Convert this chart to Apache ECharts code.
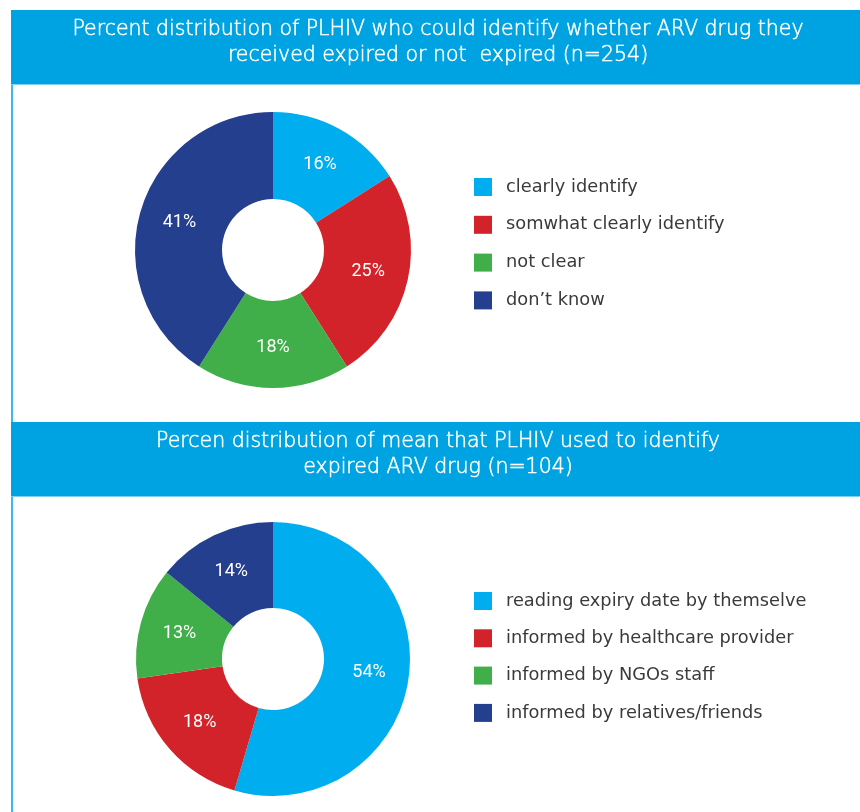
<!DOCTYPE html>
<html>
<head>
<meta charset="utf-8">
<script src="https://cdn.jsdelivr.net/npm/echarts@6/dist/echarts.min.js"></script>
<style>html,body{margin:0;padding:0;background:#fff;}#c{width:860px;height:812px;}</style>
</head>
<body>
<div id="c"></div>
<script>
const title1 = ['Percent distribution of PLHIV who could identify whether ARV drug they', 'received expired or not  expired (n=254)'];
const title2 = ['Percen distribution of mean that PLHIV used to identify', 'expired ARV drug (n=104)'];
const cats1 = ['clearly identify', 'somwhat clearly identify', 'not clear', 'don\u2019t know'];
const vals1 = [16, 25, 18, 41];
const cats2 = ['reading expiry date by themselve', 'informed by healthcare provider', 'informed by NGOs staff', 'informed by relatives/friends'];
const vals2 = [54, 18, 13, 14];
const colors = ['#00aeef', '#d2232a', '#40ae49', '#253f8f'];

const chart = echarts.init(document.getElementById('c'), null, {renderer: 'canvas'});
const hdr = '#00a3e2';
const titleFont = {fontFamily: 'DejaVu Sans', fontWeight: 300, fontSize: 20.5, fill: '#ffffff', stroke: '#ffffff', lineWidth: 0.5};
function titleTexts(lines, y0) {
  return lines.map((t, i) => ({
    type: 'text', x: 438, y: y0 + i * 26, z: 10,
    style: Object.assign({text: t, textAlign: 'center', textVerticalAlign: 'middle'}, titleFont)
  }));
}
const mk = (cats, vals) => cats.map((n, i) => ({name: n, value: vals[i], itemStyle: {color: colors[i]}}));
const label = {show: true, position: 'inside', formatter: '{c}%', color: '#fff', fontSize: 18, fontFamily: 'Roboto', fontWeight: 400};
const legText = {fontFamily: 'DejaVu Sans', fontSize: 17.8, color: '#3a3a3a', padding: [0, 0, 0, 9]};

chart.setOption({
  animation: false,
  backgroundColor: '#fff',
  graphic: [
    {type: 'rect', shape: {x: 11, y: 84, width: 2, height: 728}, style: {fill: '#3db7ec'}},
    {type: 'rect', shape: {x: 11, y: 10, width: 849, height: 74}, style: {fill: hdr}},
    {type: 'rect', shape: {x: 11, y: 84, width: 849, height: 1}, style: {fill: '#7fd0f3'}},
    {type: 'rect', shape: {x: 11, y: 422, width: 849, height: 74}, style: {fill: hdr}},
    {type: 'rect', shape: {x: 11, y: 496, width: 849, height: 1}, style: {fill: '#7fd0f3'}},
    ...titleTexts(title1, 30),
    ...titleTexts(title2, 442)
  ],
  legend: [
    {data: cats1, orient: 'vertical', left: 469, top: 173, itemWidth: 18, itemHeight: 18, itemGap: 19.8, icon: 'rect',
     textStyle: legText, selectedMode: false},
    {data: cats2, orient: 'vertical', left: 469, top: 587, itemWidth: 18, itemHeight: 18, itemGap: 19.3, icon: 'rect',
     textStyle: legText, selectedMode: false}
  ],
  series: [
    {type: 'pie', center: [273, 250], radius: [51, 138], startAngle: 90, clockwise: true, label: label,
     labelLine: {show: false}, emphasis: {disabled: true}, data: mk(cats1, vals1)},
    {type: 'pie', center: [273, 659], radius: [51, 137], startAngle: 90, clockwise: true, label: label,
     labelLine: {show: false}, emphasis: {disabled: true}, data: mk(cats2, vals2)}
  ]
});
</script>
</body>
</html>
